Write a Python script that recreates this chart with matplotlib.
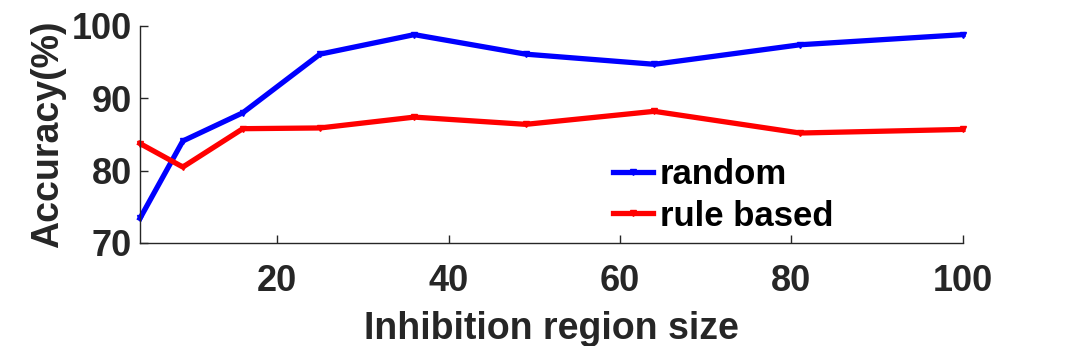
import numpy as np
import matplotlib.pyplot as plt

plt.rcParams['font.family'] = ['Liberation Sans', 'DejaVu Sans']
plt.rcParams['font.weight'] = 'bold'

#%% data
region_size = [4, 9, 16, 25, 36, 49, 64, 81, 100]
acc_random = [73.4, 84.1, 88.0, 96.1, 98.8, 96.1, 94.7, 97.4, 98.8]
acc_rule = [83.75, 80.5, 85.8, 85.9, 87.4, 86.4, 88.2, 85.2, 85.7]

#%% plot
fig = plt.figure(figsize=(10.66, 3.46), dpi=100)
ax = fig.add_axes([0.1313, 0.2977, 0.772, 0.6273])

ax.plot(region_size, acc_random, color='blue', lw=3.8, marker='v', ms=5,
        label='random', clip_on=False)
ax.plot(region_size, acc_rule, color='red', lw=3.8, marker='v', ms=5,
        label='rule based', clip_on=False)

ax.set_xlim(4, 100)
ax.set_ylim(70, 100)
ax.set_xticks([20, 40, 60, 80, 100])
ax.set_yticks([70, 80, 90, 100])

dark = '#262626'
for s in ['top', 'right']:
    ax.spines[s].set_visible(False)
for s in ['left', 'bottom']:
    ax.spines[s].set_color(dark)
    ax.spines[s].set_linewidth(1.0)
ax.tick_params(direction='in', length=6, width=1, colors=dark, labelsize=26)
ax.tick_params(axis='x', pad=15)
ax.tick_params(axis='y', pad=6)
for lab in ax.get_xticklabels() + ax.get_yticklabels():
    lab.set_fontweight('bold')

ax.set_xlabel('Inhibition region size', fontsize=27, fontweight='bold', color=dark, labelpad=9)
ax.set_ylabel('Accuracy(%)', fontsize=27, fontweight='bold', color=dark, labelpad=4)

ax.legend(loc='upper left', bbox_to_anchor=(0.558, 0.456), frameon=False,
          fontsize=25, handlelength=1.15, handletextpad=0.2, labelspacing=0.25,
          borderaxespad=0)

fig.savefig('out.png', dpi=100)
